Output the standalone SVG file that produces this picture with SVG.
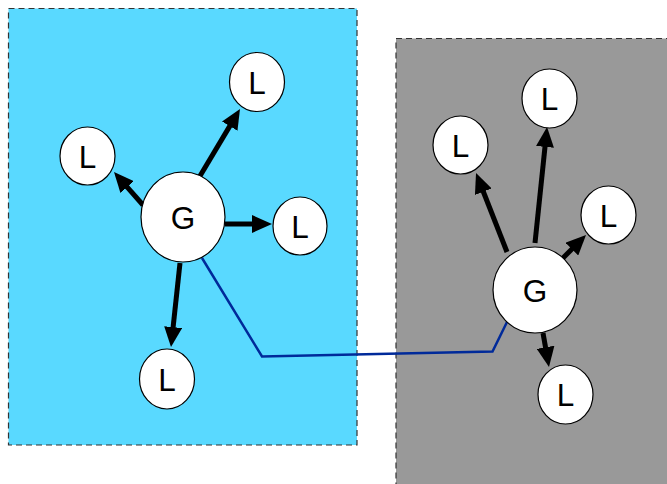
<svg xmlns="http://www.w3.org/2000/svg" width="667" height="484" viewBox="0 0 667 484">
<style>
.zone{stroke:#333;stroke-width:1.2;stroke-dasharray:6,4}
.node{fill:#fff;stroke:#000;stroke-width:1.2}
.lbl{font-family:"Liberation Sans",Arial,sans-serif;font-size:31.5px;fill:#000;text-anchor:middle}
.arr{stroke:#000;stroke-width:5;fill:none;marker-end:url(#ah)}
.link{stroke:#002a9a;stroke-width:2.5;fill:none;stroke-linejoin:miter}
</style>
<defs>
<marker id="ah" markerUnits="userSpaceOnUse" markerWidth="20" markerHeight="18" refX="5" refY="9" orient="auto">
<path d="M0,0 L20,9 L0,18 z" fill="#000"/>
</marker>
</defs>
<rect id="zone-left" class="zone" x="8.5" y="8.5" width="348.5" height="436.5" fill="#59d9ff"/>
<rect id="zone-right" class="zone" x="396" y="38.5" width="280" height="460" fill="#999"/>
<g id="connectors">
<path class="link" d="M202,258 L262,356.5 L492.5,351.5 L507,322"/>
<line class="arr" x1="200" y1="176" x2="232.3" y2="121.9"/>
<line class="arr" x1="143" y1="205" x2="123.9" y2="183.3"/>
<line class="arr" x1="225" y1="224" x2="257" y2="224"/>
<line class="arr" x1="180" y1="263" x2="172.6" y2="332.1"/>
<line class="arr" x1="507" y1="252" x2="481.5" y2="187"/>
<line class="arr" x1="535" y1="243" x2="545.5" y2="141.9"/>
<line class="arr" x1="563" y1="258" x2="575.4" y2="245.6"/>
<line class="arr" x1="543" y1="333" x2="546.4" y2="352.2"/>
</g>
<g id="G1"><ellipse class="node" cx="183" cy="217" rx="42" ry="45"/><text class="lbl" x="183" y="228.5">G</text></g>
<g id="L1"><ellipse class="node" cx="257" cy="82" rx="27.5" ry="29.5"/><text class="lbl" x="257" y="93.5">L</text></g>
<g id="L2"><ellipse class="node" cx="87.5" cy="156" rx="27.5" ry="29"/><text class="lbl" x="87.5" y="167.5">L</text></g>
<g id="L3"><ellipse class="node" cx="300" cy="226" rx="27" ry="29"/><text class="lbl" x="300" y="237.5">L</text></g>
<g id="L4"><ellipse class="node" cx="167" cy="379" rx="27.5" ry="30"/><text class="lbl" x="167" y="390.5">L</text></g>
<g id="G2"><ellipse class="node" cx="535" cy="290" rx="42" ry="43"/><text class="lbl" x="535" y="301.5">G</text></g>
<g id="L5"><ellipse class="node" cx="549.5" cy="98.5" rx="27.5" ry="29.5"/><text class="lbl" x="549.5" y="110">L</text></g>
<g id="L6"><ellipse class="node" cx="460.5" cy="145" rx="27.5" ry="29"/><text class="lbl" x="460.5" y="156.5">L</text></g>
<g id="L7"><ellipse class="node" cx="608.5" cy="215" rx="27.5" ry="29"/><text class="lbl" x="608.5" y="226.5">L</text></g>
<g id="L8"><ellipse class="node" cx="565.5" cy="394.5" rx="27.5" ry="29.5"/><text class="lbl" x="565.5" y="406">L</text></g>
</svg>
